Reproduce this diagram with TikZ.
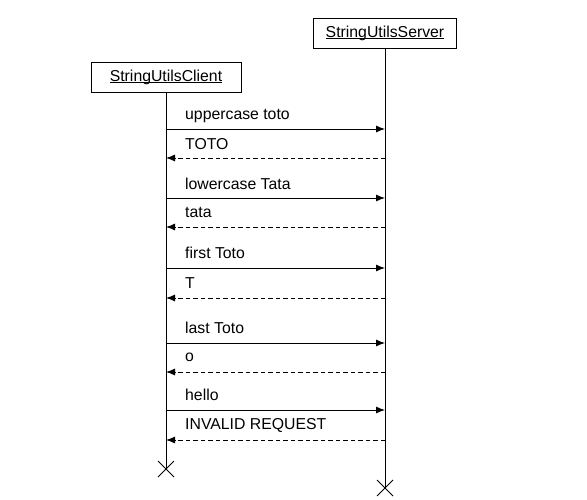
\documentclass[tikz,border=0pt]{standalone}
\usepackage{fontspec}
\setmainfont{Liberation Sans}
\usetikzlibrary{arrows.meta, calc}

% underlined actor name
\newcommand\ulname[1]{\setbox0\hbox{#1}\rlap{\rule[-2pt]{\wd0}{0.8pt}}\box0}

\tikzset{
    actor/.style={draw, line width=0.9pt, minimum height=30pt, inner sep=0pt},
    lifeline/.style={line width=0.9pt},
    request/.style={line width=0.9pt, -{Latex[length=9pt,width=7pt]}},
    reply/.style={line width=0.9pt, dashed, dash pattern=on 4.5pt off 3pt, -{Latex[length=9pt,width=7pt]}},
    msg/.style={anchor=west, inner sep=0pt},
    kill/.style={line width=0.9pt}
}

\begin{document}
\begin{tikzpicture}[x=1pt, y=-1pt, font=\fontsize{15.8}{18}\selectfont]
    \useasboundingbox (0,0) rectangle (587,500);

    % Actors
    \node[actor, minimum width=150pt] (client) at (166,77) {\ulname{StringUtilsClient}};
    \node[actor, minimum width=143pt] (server) at (385,33) {\ulname{StringUtilsServer}};

    % Lifelines
    \coordinate (clientEnd) at (166,469);
    \coordinate (serverEnd) at (385,488);
    \draw[lifeline] (client.south) -- (clientEnd);
    \draw[lifeline] (server.south) -- (serverEnd);

    % Requests
    \foreach \y/\ly/\txt [count=\i] in {129/116/uppercase toto, 198/184/lowercase Tata,
            268/253/first Toto, 343/328/last Toto, 410/395/hello}{
        \coordinate (reqC\i) at (166,\y);
        \coordinate (reqS\i) at (385,\y);
        \draw[request] (reqC\i) -- (reqS\i);
        \node[msg] (reqL\i) at (185,\ly) {\txt};
    }

    % Replies
    \foreach \y/\ly/\txt [count=\i] in {158/144/TOTO, 227/212/tata,
            298/283/T, 372/357/o, 440/425/INVALID REQUEST}{
        \coordinate (repS\i) at (385,\y);
        \coordinate (repC\i) at (166,\y);
        \draw[reply] (repS\i) -- (repC\i);
        \node[msg] (repL\i) at (185,\ly) {\txt};
    }

    % Destruction marks
    \draw[kill] ($(clientEnd)+(-8,-8)$) -- ($(clientEnd)+(8,8)$);
    \draw[kill] ($(clientEnd)+(-8,8)$) -- ($(clientEnd)+(8,-8)$);
    \draw[kill] ($(serverEnd)+(-8,-8)$) -- ($(serverEnd)+(8,8)$);
    \draw[kill] ($(serverEnd)+(-8,8)$) -- ($(serverEnd)+(8,-8)$);
\end{tikzpicture}
\end{document}
